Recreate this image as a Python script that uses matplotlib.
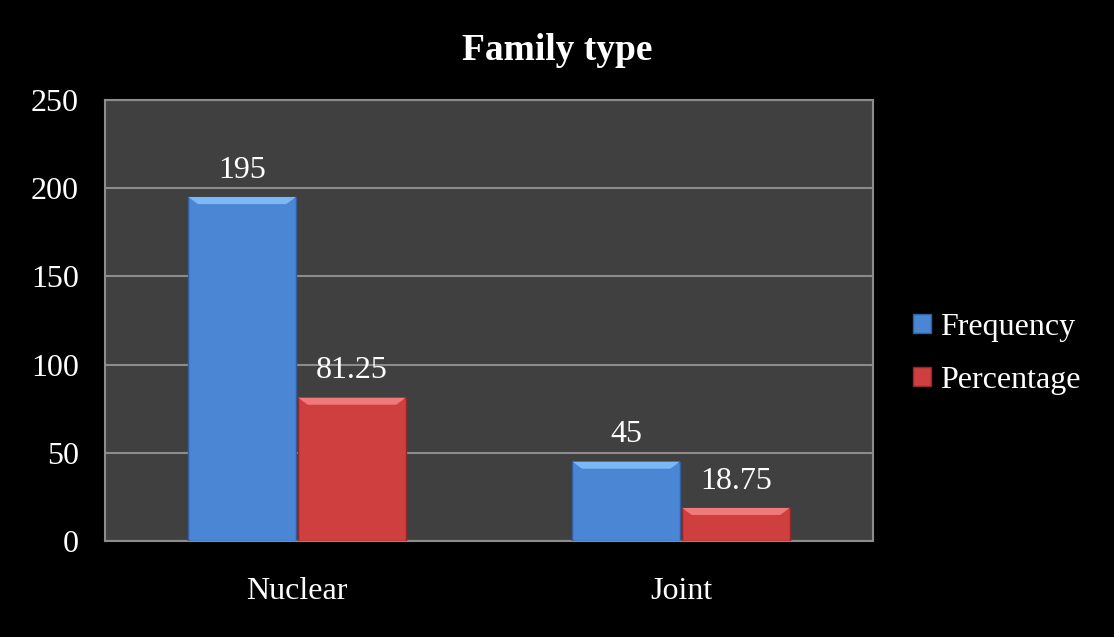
import numpy as np
import matplotlib.pyplot as plt
from matplotlib.patches import Polygon

# data
categories = ["Nuclear", "Joint"]
frequency = [195, 45]
percentage = [81.25, 18.75]
series_names = ["Frequency", "Percentage"]
value_labels = [["195", "45"], ["81.25", "18.75"]]
yticks = [0, 50, 100, 150, 200, 250]

plt.rcParams['font.family'] = ['Liberation Serif', 'DejaVu Serif']

fig = plt.figure(figsize=(11.14, 6.37), dpi=100, facecolor="black")
ax = fig.add_axes([0.0943, 0.1507, 0.6894, 0.6923])
ax.set_facecolor("#404040")

x = np.arange(len(categories))
w = 0.286
colors = ["#4a86d4", "#cf3f3f"]
tops = ["#7cb8f4", "#f07a7a"]
edges = ["#2f5f9f", "#8f2a2a"]

for i, vals in enumerate([frequency, percentage]):
    offs = (i - 0.5) * w
    bars = ax.bar(x + offs, vals, w * 0.98, color=colors[i], edgecolor=edges[i],
                  linewidth=1, label=series_names[i], zorder=3)
    # bevel highlight along the top of each bar
    for b in bars:
        bx, bw, bh = b.get_x(), b.get_width(), b.get_height()
        d = 4.0
        poly = Polygon([(bx, bh), (bx + bw, bh), (bx + bw - 0.025, bh - d), (bx + 0.025, bh - d)],
                       closed=True, facecolor=tops[i], edgecolor="none", zorder=4)
        ax.add_patch(poly)
    for xb, v, lab in zip(x + offs, vals, value_labels[i]):
        ax.text(xb, v + 7, lab, ha="center", va="bottom", color="white", fontsize=23, zorder=5)

ax.set_xlim(-0.5, 1.5)
ax.set_ylim(0, 250)
ax.set_yticks(yticks)
ax.set_xticks(x)
ax.set_xticklabels(categories)
ax.yaxis.grid(True, color="#8c8c8c", linewidth=1.5, zorder=0)
ax.set_axisbelow(True)
ax.tick_params(colors="white", labelsize=23, length=0)
ax.tick_params(axis="y", pad=19)
ax.tick_params(axis="x", pad=26)
for s in ax.spines.values():
    s.set_color("#8c8c8c")
    s.set_linewidth(1.5)

fig.suptitle("Family type", color="white", fontsize=27, fontweight="bold", y=0.948)

leg = ax.legend(loc="center left", bbox_to_anchor=(1.015, 0.425), frameon=False,
                fontsize=23, labelcolor="white", handlelength=0.55, handleheight=0.55,
                handletextpad=0.3, labelspacing=0.75)

fig.savefig("out.png", dpi=100, facecolor="black")
